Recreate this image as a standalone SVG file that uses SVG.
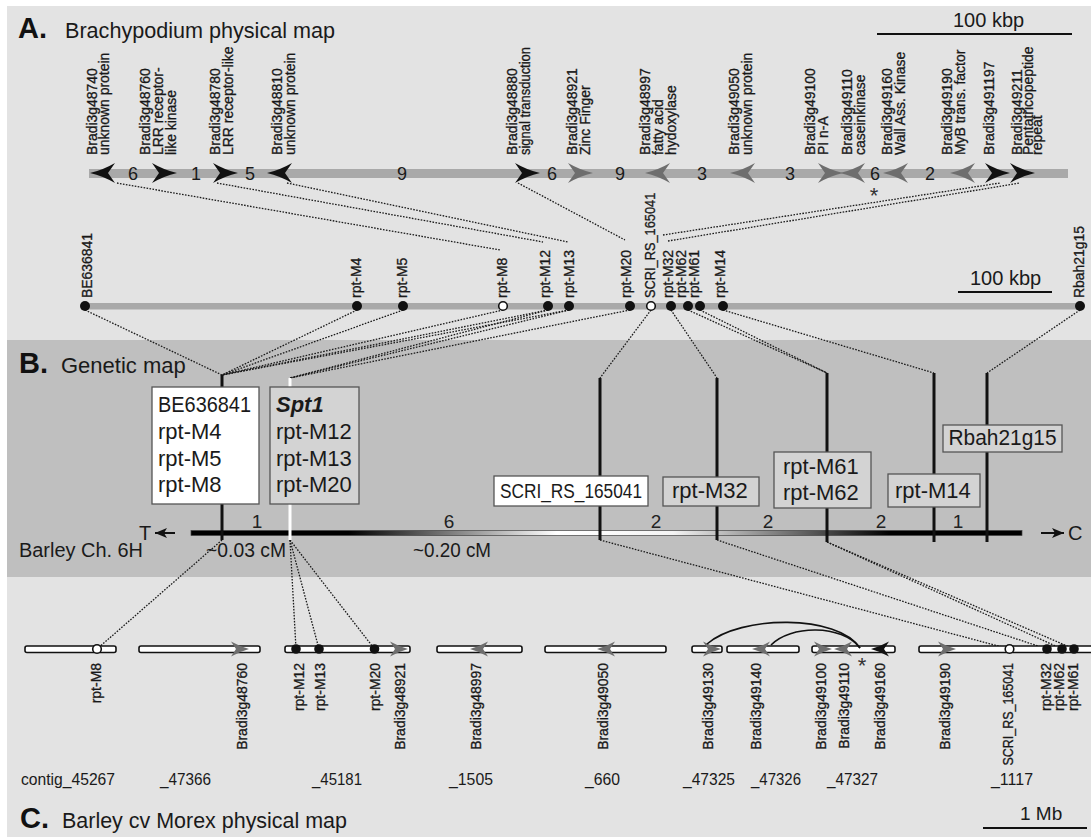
<svg xmlns="http://www.w3.org/2000/svg" width="1091" height="837" viewBox="0 0 1091 837">
<defs>
<style>
text{font-family:"Liberation Sans",Arial,sans-serif;fill:#1a1a1a}
.ttl{font-size:29px;font-weight:bold;fill:#111}
.sub{font-size:22px}
.gl{font-size:15.5px;fill:#111;stroke:#111;stroke-width:0.3}
.num{font-size:18px;fill:#333}
.mn{font-size:19px;fill:#222;text-anchor:middle}
.box{font-size:22px}
.ct{font-size:17px}
.ast{font-size:22px;fill:#333;text-anchor:middle}
.dt{stroke:#1a1a1a;stroke-width:1.3;stroke-dasharray:1.6 1.4;fill:none}
.bk{fill:#111}
.gy{fill:#6e6e6e}
.mk{fill:#111}
.op{fill:#fff;stroke:#111;stroke-width:1.6}
.ctg{fill:#fff;stroke:#111;stroke-width:1.6}
.vl{stroke:#111;stroke-width:3}
.bxw{fill:#fff;stroke:#555;stroke-width:1.3}
.bxg{fill:#d3d3d3;stroke:#555;stroke-width:1.3}
.end{text-anchor:end}
</style>
<path id="ga" d="M0,0 Q-13,-3 -25,-10 L-18,0 L-25,10 Q-13,3 0,0Z"/>
<path id="ca" d="M0,0 Q-9,-2.5 -18,-7.5 L-13,0 L-18,7.5 Q-9,2.5 0,0Z"/>
<marker id="ah" viewBox="0 0 12 10" refX="12" refY="5" markerWidth="12" markerHeight="10" markerUnits="userSpaceOnUse" orient="auto">
<path d="M0,0 L12,5 L0,10 L3,5Z" fill="#111"/>
</marker>
<linearGradient id="mapg" gradientUnits="userSpaceOnUse" x1="191" y1="0" x2="1022" y2="0">
<stop offset="0" stop-color="#000"/>
<stop offset="0.19" stop-color="#000"/>
<stop offset="0.44" stop-color="#fff"/>
<stop offset="0.58" stop-color="#f4f4f4"/>
<stop offset="0.84" stop-color="#000"/>
<stop offset="1" stop-color="#000"/>
</linearGradient>
</defs>

<rect x="0" y="0" width="1091" height="837" fill="#fff"/>
<rect x="7" y="6" width="1084" height="831" fill="#e3e3e3"/>
<rect x="7" y="340" width="1084" height="237" fill="#bfbfbf"/>

<g id="titleA">
<text class="ttl" x="18" y="38">A.</text>
<text class="sub" x="65" y="38" textLength="270" lengthAdjust="spacingAndGlyphs">Brachypodium physical map</text>
</g>
<g id="scaleA">
<text x="953" y="27" font-size="20">100 kbp</text>
<line x1="877" y1="34" x2="1072" y2="34" stroke="#111" stroke-width="2"/>
</g>

<g id="connectors" class="dt">
<line x1="117" y1="183" x2="500" y2="250"/>
<line x1="217" y1="183" x2="543" y2="242"/>
<line x1="287" y1="183" x2="568" y2="242"/>
<line x1="518" y1="183" x2="625" y2="240"/>
<line x1="663" y1="235" x2="1000" y2="183"/>
<line x1="668" y1="241" x2="1020" y2="183"/>
<line x1="85" y1="310" x2="222" y2="375"/>
<line x1="357" y1="310" x2="222" y2="375"/>
<line x1="403" y1="310" x2="222" y2="375"/>
<line x1="503" y1="310" x2="222" y2="375"/>
<line x1="548" y1="310" x2="222" y2="375"/>
<line x1="569" y1="310" x2="222" y2="375"/>
<line x1="548" y1="310" x2="290" y2="378"/>
<line x1="569" y1="310" x2="290" y2="378"/>
<line x1="630" y1="310" x2="290" y2="378"/>
<line x1="651" y1="310" x2="600" y2="378"/>
<line x1="671" y1="310" x2="717" y2="378"/>
<line x1="688" y1="310" x2="827" y2="373"/>
<line x1="700" y1="310" x2="827" y2="373"/>
<line x1="723" y1="310" x2="934" y2="373"/>
<line x1="1080" y1="310" x2="987" y2="373"/>
<line x1="222" y1="540" x2="97" y2="649"/>
<line x1="290" y1="540" x2="296" y2="649"/>
<line x1="290" y1="540" x2="319" y2="649"/>
<line x1="290" y1="540" x2="374.5" y2="649"/>
<line x1="600" y1="540" x2="1009.5" y2="649"/>
<line x1="717" y1="540" x2="1047" y2="649"/>
<line x1="827" y1="542" x2="1062" y2="649"/>
<line x1="827" y1="542" x2="1074" y2="649"/>
</g>

<g id="generow">
<rect x="89" y="169" width="979" height="9" fill="#a9a9a9"/>
<use href="#ga" class="bk" transform="translate(90,173) scale(-1,1)"/>
<use href="#ga" class="bk" transform="translate(177,173)"/>
<use href="#ga" class="bk" transform="translate(238,173)"/>
<use href="#ga" class="bk" transform="translate(267,173) scale(-1,1)"/>
<use href="#ga" class="bk" transform="translate(540,173)"/>
<use href="#ga" class="gy" transform="translate(593,173)"/>
<use href="#ga" class="gy" transform="translate(645,173) scale(-1,1)"/>
<use href="#ga" class="gy" transform="translate(730,173) scale(-1,1)"/>
<use href="#ga" class="gy" transform="translate(843,173)"/>
<use href="#ga" class="gy" transform="translate(840,173) scale(-1,1)"/>
<use href="#ga" class="gy" transform="translate(883,173) scale(-1,1)"/>
<use href="#ga" class="gy" transform="translate(950,173) scale(-1,1)"/>
<use href="#ga" class="bk" transform="translate(1010,173)"/>
<use href="#ga" class="bk" transform="translate(1035,173)"/>
<g class="num" text-anchor="middle">
<text x="133" y="180">6</text><text x="196" y="180">1</text><text x="250" y="180">5</text>
<text x="402" y="180">9</text><text x="552" y="180">6</text><text x="620" y="180">9</text>
<text x="702" y="180">3</text><text x="790" y="180">3</text><text x="875" y="180">6</text>
<text x="930" y="180">2</text>
</g>
<text class="ast" x="874" y="203">*</text>
</g>

<g id="genelabels" class="gl">
<text transform="translate(97,155) rotate(-90) scale(0.9,1)">Bradi3g48740</text>
<text transform="translate(109,155) rotate(-90) scale(0.9,1)">unknown protein</text>
<text transform="translate(150,155) rotate(-90) scale(0.9,1)">Bradi3g48760</text>
<text transform="translate(163,155) rotate(-90) scale(0.9,1)">LRR receptor-</text>
<text transform="translate(176,155) rotate(-90) scale(0.9,1)">like kinase</text>
<text transform="translate(220,155) rotate(-90) scale(0.9,1)">Bradi3g48780</text>
<text transform="translate(233,155) rotate(-90) scale(0.9,1)">LRR receptor-like</text>
<text transform="translate(282,155) rotate(-90) scale(0.9,1)">Bradi3g48810</text>
<text transform="translate(295,155) rotate(-90) scale(0.9,1)">unknown protein</text>
<text transform="translate(517,155) rotate(-90) scale(0.9,1)">Bradi3g48880</text>
<text transform="translate(530,155) rotate(-90) scale(0.9,1)" textLength="120" lengthAdjust="spacingAndGlyphs">signal transduction</text>
<text transform="translate(577,155) rotate(-90) scale(0.9,1)">Bradi3g48921</text>
<text transform="translate(590,155) rotate(-90) scale(0.9,1)">Zinc Finger</text>
<text transform="translate(650,155) rotate(-90) scale(0.9,1)">Bradi3g48997</text>
<text transform="translate(663,155) rotate(-90) scale(0.9,1)">fatty acid</text>
<text transform="translate(676,155) rotate(-90) scale(0.9,1)">hydoxylase</text>
<text transform="translate(739,155) rotate(-90) scale(0.9,1)">Bradi3g49050</text>
<text transform="translate(752,155) rotate(-90) scale(0.9,1)">unknown protein</text>
<text transform="translate(815,155) rotate(-90) scale(0.9,1)">Bradi3g49100</text>
<text transform="translate(828,155) rotate(-90) scale(0.9,1)">PI n-A</text>
<text transform="translate(852,155) rotate(-90) scale(0.9,1)">Bradi3g49110</text>
<text transform="translate(865,155) rotate(-90) scale(0.9,1)">caseinkinase</text>
<text transform="translate(892,155) rotate(-90) scale(0.9,1)">Bradi3g49160</text>
<text transform="translate(905,155) rotate(-90) scale(0.9,1)">Wall Ass. Kinase</text>
<text transform="translate(952,155) rotate(-90) scale(0.9,1)">Bradi3g49190</text>
<text transform="translate(965,155) rotate(-90) scale(0.9,1)">MyB trans. factor</text>
<text transform="translate(994,155) rotate(-90) scale(0.9,1)">Bradi3g491197</text>
<text transform="translate(1022,155) rotate(-90) scale(0.9,1)">Bradi3g49211</text>
<text transform="translate(1033,155) rotate(-90) scale(0.9,1)">Pentatricopeptide</text>
<text transform="translate(1042,155) rotate(-90) scale(0.9,1)">repeat</text>
</g>

<g id="markerrow">
<rect x="85" y="303" width="995" height="6.5" fill="#a9a9a9"/>
<circle class="mk" cx="85" cy="306" r="5"/>
<circle class="mk" cx="357" cy="306" r="5"/>
<circle class="mk" cx="403" cy="306" r="5"/>
<circle class="op" cx="503" cy="306" r="4.3"/>
<circle class="mk" cx="548" cy="306" r="5"/>
<circle class="mk" cx="569" cy="306" r="5"/>
<circle class="mk" cx="630" cy="306" r="5"/>
<circle class="op" cx="651" cy="306" r="4.3"/>
<circle class="mk" cx="671" cy="306" r="5"/>
<circle class="mk" cx="688" cy="306" r="5"/>
<circle class="mk" cx="700" cy="306" r="5"/>
<circle class="mk" cx="723" cy="306" r="5"/>
<circle class="mk" cx="1080" cy="306" r="5"/>
<g class="gl">
<text transform="translate(92,298) rotate(-90) scale(0.9,1)">BE636841</text>
<text transform="translate(361,298) rotate(-90) scale(0.9,1)">rpt-M4</text>
<text transform="translate(407,298) rotate(-90) scale(0.9,1)">rpt-M5</text>
<text transform="translate(507,298) rotate(-90) scale(0.9,1)">rpt-M8</text>
<text transform="translate(550,298) rotate(-90) scale(0.9,1)">rpt-M12</text>
<text transform="translate(574,298) rotate(-90) scale(0.9,1)">rpt-M13</text>
<text transform="translate(631,298) rotate(-90) scale(0.9,1)">rpt-M20</text>
<text transform="translate(655,298) rotate(-90) scale(0.9,1)" textLength="117" lengthAdjust="spacingAndGlyphs">SCRI_RS_165041</text>
<text transform="translate(673,298) rotate(-90) scale(0.9,1)">rpt-M32</text>
<text transform="translate(686,298) rotate(-90) scale(0.9,1)">rpt-M62</text>
<text transform="translate(699,298) rotate(-90) scale(0.9,1)">rpt-M61</text>
<text transform="translate(725,298) rotate(-90) scale(0.9,1)">rpt-M14</text>
<text transform="translate(1084,298) rotate(-90) scale(0.9,1)">Rbah21g15</text>
</g>
</g>
<g id="scaleB">
<text x="970" y="285" font-size="20">100 kbp</text>
<line x1="958" y1="292" x2="1052" y2="292" stroke="#111" stroke-width="2"/>
</g>

<g id="titleB">
<text class="ttl" x="19" y="373">B.</text>
<text class="sub" x="61" y="373">Genetic map</text>
</g>
<g id="geneticmap">
<rect x="191" y="530.5" width="831" height="5" fill="url(#mapg)" stroke="#444" stroke-width="0.7"/>
<line class="vl" x1="222" y1="375" x2="222" y2="540"/>
<line x1="290" y1="378" x2="290" y2="540" stroke="#fff" stroke-width="3"/>
<line class="vl" x1="600" y1="378" x2="600" y2="540"/>
<line class="vl" x1="717" y1="378" x2="717" y2="540"/>
<line class="vl" x1="827" y1="373" x2="827" y2="542"/>
<line class="vl" x1="934" y1="373" x2="934" y2="542"/>
<line class="vl" x1="987" y1="373" x2="987" y2="542"/>
<line x1="175" y1="533" x2="155" y2="533" stroke="#111" stroke-width="2" marker-end="url(#ah)"/>
<text x="139" y="540" font-size="20">T</text>
<line x1="1041" y1="533" x2="1064" y2="533" stroke="#111" stroke-width="2" marker-end="url(#ah)"/>
<text x="1068" y="540" font-size="20">C</text>
<text class="mn" x="257" y="528">1</text>
<text class="mn" x="449" y="528">6</text>
<text class="mn" x="656" y="528">2</text>
<text class="mn" x="768" y="528">2</text>
<text class="mn" x="881" y="528">2</text>
<text class="mn" x="958" y="528">1</text>
<text x="19" y="557" font-size="20" textLength="124" lengthAdjust="spacingAndGlyphs">Barley Ch. 6H</text>
<text x="206" y="557" font-size="20" textLength="80" lengthAdjust="spacingAndGlyphs">~0.03 cM</text>
<text x="413" y="557" font-size="20" textLength="78" lengthAdjust="spacingAndGlyphs">~0.20 cM</text>
</g>
<g id="box1">
<rect class="bxw" x="152" y="387" width="107" height="117"/>
<text class="box" x="158" y="412" textLength="93" lengthAdjust="spacingAndGlyphs">BE636841</text>
<text class="box" x="158" y="439">rpt-M4</text>
<text class="box" x="158" y="465.5">rpt-M5</text>
<text class="box" x="158" y="492">rpt-M8</text>
</g>
<g id="box2">
<rect class="bxg" x="270" y="387" width="89" height="117"/>
<text class="box" x="276" y="412" font-weight="bold" font-style="italic">Spt1</text>
<text class="box" x="276" y="439">rpt-M12</text>
<text class="box" x="276" y="465.5">rpt-M13</text>
<text class="box" x="276" y="492">rpt-M20</text>
</g>
<g id="box3">
<rect class="bxw" x="494" y="476" width="154" height="30"/>
<text x="500" y="498" font-size="20" textLength="142" lengthAdjust="spacingAndGlyphs">SCRI_RS_165041</text>
</g>
<g id="box4">
<rect class="bxg" x="663" y="477" width="96" height="29"/>
<text class="box" x="672" y="498">rpt-M32</text>
</g>
<g id="box5">
<rect class="bxg" x="774" y="452" width="97" height="56"/>
<text class="box" x="783" y="474">rpt-M61</text>
<text class="box" x="783" y="500">rpt-M62</text>
</g>
<g id="box6">
<rect class="bxg" x="888" y="474" width="92" height="33"/>
<text class="box" x="895" y="498">rpt-M14</text>
</g>
<g id="box7">
<rect class="bxg" x="943" y="425" width="119" height="27"/>
<text class="box" x="948.5" y="445" textLength="108" lengthAdjust="spacingAndGlyphs">Rbah21g15</text>
</g>

<g id="contigs">
<rect class="ctg" x="25" y="646" width="91" height="6.5" rx="2"/>
<rect class="ctg" x="139" y="646" width="121" height="6.5" rx="2"/>
<rect class="ctg" x="285" y="646" width="125" height="6.5" rx="2"/>
<rect class="ctg" x="437" y="646" width="85" height="6.5" rx="2"/>
<rect class="ctg" x="545" y="646" width="121" height="6.5" rx="2"/>
<rect class="ctg" x="692" y="646" width="30" height="6.5" rx="2"/>
<rect class="ctg" x="727" y="646" width="72" height="6.5" rx="2"/>
<rect class="ctg" x="812" y="646" width="83" height="6.5" rx="2"/>
<rect class="ctg" x="919" y="646" width="175" height="6.5" rx="2"/>
<use href="#ca" class="gy" transform="translate(249,649)"/>
<use href="#ca" class="gy" transform="translate(408,649)"/>
<use href="#ca" class="gy" transform="translate(470,649) scale(-1,1)"/>
<use href="#ca" class="gy" transform="translate(597,649) scale(-1,1)"/>
<use href="#ca" class="gy" transform="translate(721,649)"/>
<use href="#ca" class="gy" transform="translate(752,649) scale(-1,1)"/>
<use href="#ca" class="gy" transform="translate(832,649)"/>
<use href="#ca" class="gy" transform="translate(834,649) scale(-1,1)"/>
<use href="#ca" class="bk" transform="translate(871,649) scale(-1,1)"/>
<use href="#ca" class="gy" transform="translate(956,649)"/>
<circle class="op" cx="97" cy="649" r="4.3"/>
<circle class="mk" cx="296" cy="649" r="4.8"/>
<circle class="mk" cx="319" cy="649" r="4.8"/>
<circle class="mk" cx="374.5" cy="649" r="4.8"/>
<circle class="op" cx="1009.5" cy="649" r="4.3"/>
<circle class="mk" cx="1047" cy="649" r="4.8"/>
<circle class="mk" cx="1062" cy="649" r="4.8"/>
<circle class="mk" cx="1074" cy="649" r="4.8"/>
<path d="M707,644 C740,615 838,614 860,648" fill="none" stroke="#111" stroke-width="1.6"/>
<path d="M771,645 C790,625 842,624 860,648" fill="none" stroke="#111" stroke-width="1.6"/>
<text class="ast" x="862" y="673">*</text>
</g>
<g id="contiglabels" class="gl end">
<text transform="translate(101,663) rotate(-90) scale(0.9,1)">rpt-M8</text>
<text transform="translate(247,663) rotate(-90) scale(0.9,1)">Bradi3g48760</text>
<text transform="translate(304,663) rotate(-90) scale(0.9,1)">rpt-M12</text>
<text transform="translate(325,663) rotate(-90) scale(0.9,1)">rpt-M13</text>
<text transform="translate(380,663) rotate(-90) scale(0.9,1)">rpt-M20</text>
<text transform="translate(405,663) rotate(-90) scale(0.9,1)">Bradi3g48921</text>
<text transform="translate(481,663) rotate(-90) scale(0.9,1)">Bradi3g48997</text>
<text transform="translate(608,663) rotate(-90) scale(0.9,1)">Bradi3g49050</text>
<text transform="translate(713,663) rotate(-90) scale(0.9,1)">Bradi3g49130</text>
<text transform="translate(761,663) rotate(-90) scale(0.9,1)">Bradi3g49140</text>
<text transform="translate(826,663) rotate(-90) scale(0.9,1)">Bradi3g49100</text>
<text transform="translate(849,663) rotate(-90) scale(0.9,1)">Bradi3g49110</text>
<text transform="translate(885,663) rotate(-90) scale(0.9,1)">Bradi3g49160</text>
<text transform="translate(950,663) rotate(-90) scale(0.9,1)">Bradi3g49190</text>
<text transform="translate(1013,663) rotate(-90) scale(0.9,1)" textLength="114" lengthAdjust="spacingAndGlyphs">SCRI_RS_165041</text>
<text transform="translate(1051,663) rotate(-90) scale(0.9,1)">rpt-M32</text>
<text transform="translate(1064,663) rotate(-90) scale(0.9,1)">rpt-M62</text>
<text transform="translate(1078,663) rotate(-90) scale(0.9,1)">rpt-M61</text>
</g>
<g id="contignames" class="ct">
<text x="21" y="785" textLength="94" lengthAdjust="spacingAndGlyphs">contig_45267</text>
<text x="160" y="785" textLength="51" lengthAdjust="spacingAndGlyphs">_47366</text>
<text x="312" y="785" textLength="50" lengthAdjust="spacingAndGlyphs">_45181</text>
<text x="449" y="785" textLength="44" lengthAdjust="spacingAndGlyphs">_1505</text>
<text x="585" y="785" textLength="35" lengthAdjust="spacingAndGlyphs">_660</text>
<text x="683" y="785" textLength="52" lengthAdjust="spacingAndGlyphs">_47325</text>
<text x="751" y="785" textLength="50" lengthAdjust="spacingAndGlyphs">_47326</text>
<text x="827" y="785" textLength="51" lengthAdjust="spacingAndGlyphs">_47327</text>
<text x="991" y="785" textLength="42" lengthAdjust="spacingAndGlyphs">_1117</text>
</g>
<g id="scaleC">
<text x="1020" y="820" font-size="19">1 Mb</text>
<line x1="983" y1="828" x2="1087" y2="828" stroke="#111" stroke-width="2"/>
</g>
<g id="titleC">
<text class="ttl" x="20" y="828">C.</text>
<text class="sub" x="62" y="828" textLength="285" lengthAdjust="spacingAndGlyphs">Barley cv Morex physical map</text>
</g>
</svg>
